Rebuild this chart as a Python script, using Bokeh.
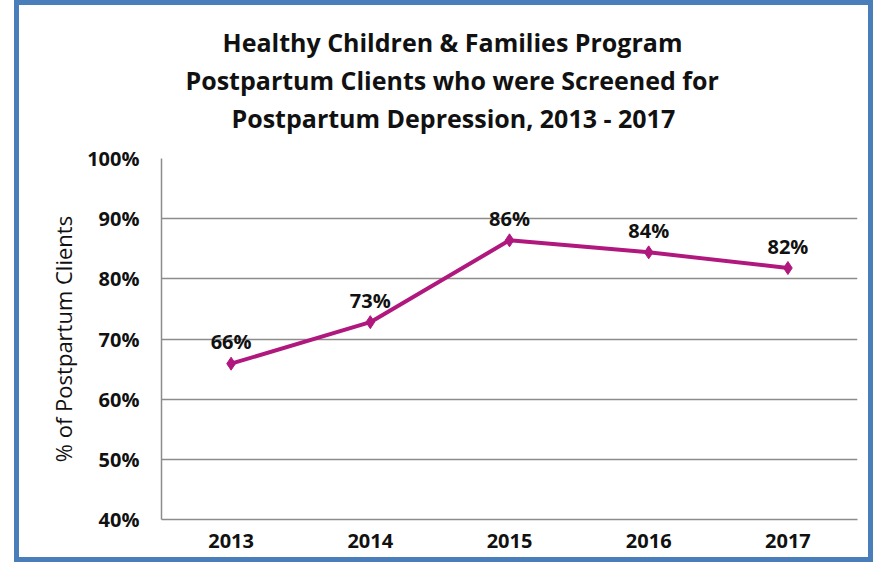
from bokeh.plotting import figure
from bokeh.models import (ColumnDataSource, FactorRange, Range1d, NumeralTickFormatter,
                          FixedTicker, Title)
from bokeh.embed import file_html
from bokeh.resources import INLINE
from bokeh.core.properties import value

years = ["2013", "2014", "2015", "2016", "2017"]
pct_screened = [0.659, 0.728, 0.864, 0.844, 0.818]
pct_labels = ["66%", "73%", "86%", "84%", "82%"]
y_ticks = [0.4, 0.5, 0.6, 0.7, 0.8, 0.9, 1.0]
title_lines = ["Healthy Children & Families Program",
               "Postpartum Clients who were Screened for",
               "Postpartum Depression, 2013 - 2017"]

FONT = "Open Sans"
LINE_COLOR = "#B0187E"
GRID = "#8C8C8C"
TXT = "#111111"

src = ColumnDataSource(dict(year=years, pct=pct_screened, lab=pct_labels))

# the host box (with its 5px blue border) is 859 x 562; the drawable area inside is 849 x 552
p = figure(width=859, height=562, output_backend="svg", toolbar_location=None,
           x_range=FactorRange(*years), y_range=Range1d(0.4, 1.0),
           min_border_left=142, min_border_right=21, min_border_top=153,
           min_border_bottom=48)
p.styles = {"border": "5px solid #4A7EBB", "margin-left": "14px"}
p.outline_line_color = None
p.background_fill_color = "white"
p.border_fill_color = "white"

# axes
p.yaxis.ticker = FixedTicker(ticks=y_ticks)
p.yaxis.formatter = NumeralTickFormatter(format="0%")
for ax in (p.xaxis[0], p.yaxis[0]):
    ax.axis_line_color = GRID
    ax.axis_line_width = 1.5
    ax.major_tick_line_color = None
    ax.minor_tick_line_color = None
    ax.major_tick_out = 0
    ax.major_tick_in = 0
    ax.major_label_text_font = FONT
    ax.major_label_text_font_style = "bold"
    ax.major_label_text_font_size = "20px"
    ax.major_label_text_color = TXT
p.yaxis.major_label_standoff = 22
p.xaxis.major_label_standoff = 14
p.yaxis.axis_label = "% of Postpartum Clients"
p.yaxis.axis_label_text_font = FONT
p.yaxis.axis_label_text_font_style = "normal"
p.yaxis.axis_label_text_font_size = "22px"
p.yaxis.axis_label_text_color = TXT
p.yaxis.axis_label_standoff = 6

p.xgrid.grid_line_color = None
p.ygrid.grid_line_color = GRID
p.ygrid.grid_line_width = 1.5

# series
p.line("year", "pct", source=src, line_color=LINE_COLOR, line_width=4)
p.scatter("year", "pct", source=src, marker="diamond", size=13,
          fill_color=LINE_COLOR, line_color=LINE_COLOR)
p.text("year", "pct", text="lab", source=src, y_offset=-22,
       text_align="center", text_baseline="alphabetic",
       text_font=value(FONT), text_font_style="bold", text_font_size="20px",
       text_color=TXT)

# title: lines stacked above the frame (first added = closest to frame)
title_offsets = [61, 24, 70]
p.add_layout(Title(text=" ", text_font_size="10px", standoff=10), "above")
for t, off in reversed(list(zip(title_lines, title_offsets))):
    p.add_layout(Title(text=t, align="left", offset=off, vertical_align="bottom",
                       standoff=2, text_font=FONT, text_font_style="bold",
                       text_font_size="25px", text_color=TXT), "above")

open("out.html", "w").write(file_html(p, INLINE))
